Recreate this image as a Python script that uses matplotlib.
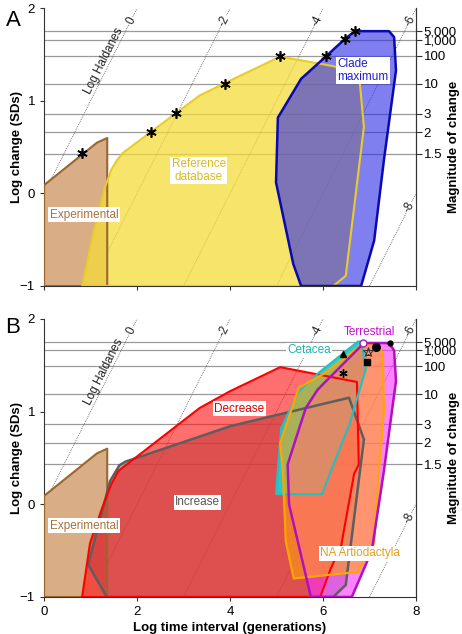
import numpy as np
import matplotlib
matplotlib.use("Agg")
import matplotlib.pyplot as plt
from matplotlib.patches import Polygon

plt.rcParams['font.family'] = ['Liberation Sans', 'DejaVu Sans']

# ---------------- data ----------------
mag_ticks = [5000, 1000, 100, 10, 3, 2, 1.5]
mag_labels = ["5,000", "1,000", "100", "10", "3", "2", "1.5"]
sd_scale = 0.15  # magnitude -> SDs: ln(M)/0.15
haldanes = [0, -2, -4, -6, -8]
x_ticks = [0, 2, 4, 6, 8]
y_ticks = [-1, 0, 1, 2]

experimental = [(0, -1), (0, 0.09), (1.14, 0.55), (1.36, 0.6), (1.36, -1)]
reference = [(0.82, -1), (1.05, -0.45), (1.3, 0.05), (1.45, 0.26), (1.57, 0.36),
             (1.7, 0.44), (3.35, 1.06), (4.0, 1.22), (5.08, 1.48), (6.24, 1.375),
             (6.78, 1.26), (6.88, 0.72), (6.49, -0.89), (6.22, -1)]
clade_max = [(5.53, -1), (5.36, -0.76), (4.99, 0.12), (5.03, 0.82), (5.53, 1.24),
             (6.06, 1.48), (6.47, 1.67), (6.69, 1.755), (7.42, 1.755), (7.53, 1.69),
             (7.57, 1.33), (7.31, 0.36), (7.1, -0.51), (6.82, -1)]
stars_x = [0.81, 2.3, 2.83, 3.89, 5.08, 6.06, 6.47, 6.69]
stars_y = [0.436, 0.669, 0.869, 1.186, 1.487, 1.487, 1.667, 1.755]

decrease = [(0.82, -1), (0.99, -0.42), (1.25, -0.04), (1.45, 0.22), (1.6, 0.36),
            (3.35, 1.04), (4.0, 1.22), (5.08, 1.48), (6.73, 1.32), (6.77, 0.43),
            (6.67, 0.33), (6.39, -0.45), (6.17, -0.69), (5.94, -1)]
increase = [(1.35, -1), (0.95, -0.65), (1.42, 0.25), (1.62, 0.42), (1.75, 0.46),
            (4.02, 0.845), (6.56, 1.15), (6.88, 0.70), (6.49, -0.87), (6.22, -1)]
cetacea = [(6.75, 1.755), (5.91, 1.42), (5.48, 1.22), (5.1, 0.82), (4.99, 0.11),
           (5.98, 0.11), (6.17, 0.36), (6.56, 0.85), (6.92, 1.46), (6.86, 1.66),
           (6.8, 1.755)]
na_artio = [(6.75, 1.69), (6.86, 1.73), (7.18, 1.73), (7.29, 1.62), (7.31, 1.0),
            (7.2, 0.36), (7.1, -0.42), (6.75, -0.73), (5.37, -0.8), (5.2, -0.4),
            (5.14, 0.33), (5.08, 0.66), (5.48, 1.26), (6.02, 1.41)]
terrestrial = [(6.88, 1.74), (7.42, 1.74), (7.53, 1.66), (7.57, 1.33), (7.31, 0.36),
               (7.05, -0.5), (6.62, -1), (5.74, -1), (5.27, 0.0), (5.24, 0.43),
               (5.63, 1.04), (5.89, 1.24)]

# markers in panel B
tri_pt = (6.43, 1.62)
ast_pt = (6.43, 1.42)
open_circ = (6.86, 1.74)
big_circ = (7.14, 1.70)
small_circ = (7.44, 1.745)
open_star = (6.97, 1.64)
square_pt = (6.95, 1.54)

# ---------------- figure ----------------
fig = plt.figure(figsize=(4.62, 6.34), dpi=100)
axA = fig.add_axes([0.0952, 0.5489, 0.8052, 0.4377])
axB = fig.add_axes([0.0952, 0.0584, 0.8052, 0.4385])

def mag_to_y(m):
    return np.log10(np.log(m) / sd_scale)

ang = np.degrees(np.arctan((0.4377 * 634 / 3) / (0.8052 * 462 / 8)))

def setup(ax, show_xlabels):
    ax.set_xlim(0, 8)
    ax.set_ylim(-1, 2)
    for m in mag_ticks:
        ax.axhline(mag_to_y(m), color='#9a9a9a', lw=0.9, zorder=0.5)
    # Haldane lines
    for h in haldanes:
        x0 = max(0, -1 - h)
        x1 = min(8, 2 - h)
        ax.plot([x0, x1], [x0 + h, x1 + h], ls=(0, (1, 1.3)), color='#555555',
                lw=0.6, zorder=0.6)
        if h > -8:
            tx = 1.87 - h
        else:
            tx = 7.85
        ty = tx + h
        ax.text(tx, ty, str(h), rotation=ang, ha='center', va='center',
                fontsize=8.5, color='#222222', zorder=8,
                bbox=dict(boxstyle='square,pad=0.05', fc='white', ec='none'))
    ax.text(1.4, 1.4, "Log Haldanes", rotation=ang, ha='center', va='bottom',
            fontsize=8.5, color='#222222', rotation_mode='anchor', zorder=8)
    ax.spines['top'].set_visible(False)
    for s in ['left', 'bottom', 'right']:
        ax.spines[s].set_color('#333333')
    ax.set_xticks(x_ticks)
    ax.set_yticks(y_ticks)
    ax.tick_params(axis='both', direction='out', length=3, width=0.8,
                   labelsize=9.5, colors='#333333', labelcolor='black')
    if not show_xlabels:
        ax.set_xticklabels([])
    ax.set_ylabel("Log change (SDs)", fontsize=9.5, fontweight='bold')
    ax.yaxis.set_label_coords(-0.057, 0.5)
    tw = ax.twinx()
    tw.set_ylim(-1, 2)
    tw.set_yticks([mag_to_y(m) for m in mag_ticks])
    tw.set_yticklabels(mag_labels)
    tw.tick_params(axis='y', direction='out', length=4, width=0.8, labelsize=9.5,
                   colors='#333333', labelcolor='black', pad=1.5)
    for s in ['top', 'left', 'bottom']:
        tw.spines[s].set_visible(False)
    tw.spines['right'].set_color('#333333')
    tw.set_ylabel("Magnitude of change", fontsize=9.5, fontweight='bold')
    tw.yaxis.set_label_coords(1.086, 0.5)

def poly(ax, pts, fc, alpha, z):
    ax.add_patch(Polygon(pts, closed=True, fc=fc, ec='none', alpha=alpha, zorder=z))

def edge(ax, pts, ec, lw, z):
    ax.add_patch(Polygon(pts, closed=True, fill=False, ec=ec, lw=lw, zorder=z,
                         joinstyle='round'))

def label(ax, x, y, s, c, ha='center'):
    ax.text(x, y, s, color=c, fontsize=8.5, ha=ha, va='center', zorder=9,
            linespacing=1.05,
            bbox=dict(boxstyle='square,pad=0.12', fc='white', ec='none'))

brown_fc, brown_ec, brown_tx = '#d9ad86', '#99672f', '#a87240'

# ---- Panel A ----
setup(axA, False)
poly(axA, experimental, brown_fc, 1.0, 1)
poly(axA, reference, '#f5db3a', 0.75, 2)
poly(axA, clade_max, '#2a2ae6', 0.6, 3)
edge(axA, experimental, brown_ec, 1.5, 4)
edge(axA, reference, '#e8cc2a', 1.5, 4)
edge(axA, clade_max, '#0a0ab0', 1.8, 5)
axA.plot(stars_x, stars_y, ls='none', marker=(6, 2, 0), ms=7.5, mec='black',
         mew=1.2, zorder=7, clip_on=False)
label(axA, 0.86, -0.23, "Experimental", brown_tx)
label(axA, 3.33, 0.25, "Reference\ndatabase", '#d6bc25')
label(axA, 6.3, 1.33, "Clade\nmaximum", '#1f1fc8', ha='left')
fig.text(0.012, 0.985, "A", fontsize=16, va='top', ha='left')

# ---- Panel B ----
setup(axB, True)
poly(axB, experimental, brown_fc, 1.0, 1)
poly(axB, increase, '#8a8a8a', 0.7, 2)
poly(axB, decrease, '#ff1010', 0.6, 2.1)
poly(axB, cetacea, '#1ed0d0', 0.95, 2.2)
poly(axB, terrestrial, '#ff30ff', 0.6, 2.3)
poly(axB, na_artio, '#ffa010', 0.6, 2.4)
edge(axB, experimental, brown_ec, 1.5, 4)
edge(axB, increase, '#5e5e5e', 1.8, 4.1)
edge(axB, decrease, '#ff0000', 1.5, 4.2)
edge(axB, cetacea, '#2fbcbc', 1.6, 4.3)
edge(axB, na_artio, '#ffa500', 1.6, 4.4)
edge(axB, terrestrial, '#b010c0', 1.8, 4.5)
axB.plot(*tri_pt, ls='none', marker='^', ms=5, color='black', zorder=7)
axB.plot(*ast_pt, ls='none', marker=(6, 2, 0), ms=6, mec='black', mew=1, zorder=7)
axB.plot(*open_circ, ls='none', marker='o', ms=5, mfc='white', mec='#a020b0', mew=1, zorder=7)
axB.plot(*big_circ, ls='none', marker='o', ms=5.5, color='black', zorder=7)
axB.plot(*small_circ, ls='none', marker='o', ms=3.5, color='black', zorder=7)
axB.plot(*open_star, ls='none', marker='*', ms=7, mfc='none', mec='#333333', mew=0.7, zorder=7)
axB.plot(*open_star, ls='none', marker='^', ms=4, mfc='none', mec='#333333', mew=0.7, zorder=7)
axB.plot(*square_pt, ls='none', marker='s', ms=4, color='black', zorder=7)
label(axB, 0.86, -0.23, "Experimental", brown_tx)
label(axB, 3.3, 0.02, "Increase", '#555555')
label(axB, 4.2, 1.03, "Decrease", '#e00000')
label(axB, 6.8, -0.53, "NA Artiodactyla", '#e0a020')
label(axB, 5.7, 1.66, "Cetacea", '#20b0b0')
label(axB, 7.0, 1.86, "Terrestrial", '#c010d0')
axB.set_xlabel("Log time interval (generations)", fontsize=9.5, fontweight='bold',
               labelpad=3)
fig.text(0.012, 0.50, "B", fontsize=16, va='top', ha='left')

fig.savefig("out.png", dpi=100)
